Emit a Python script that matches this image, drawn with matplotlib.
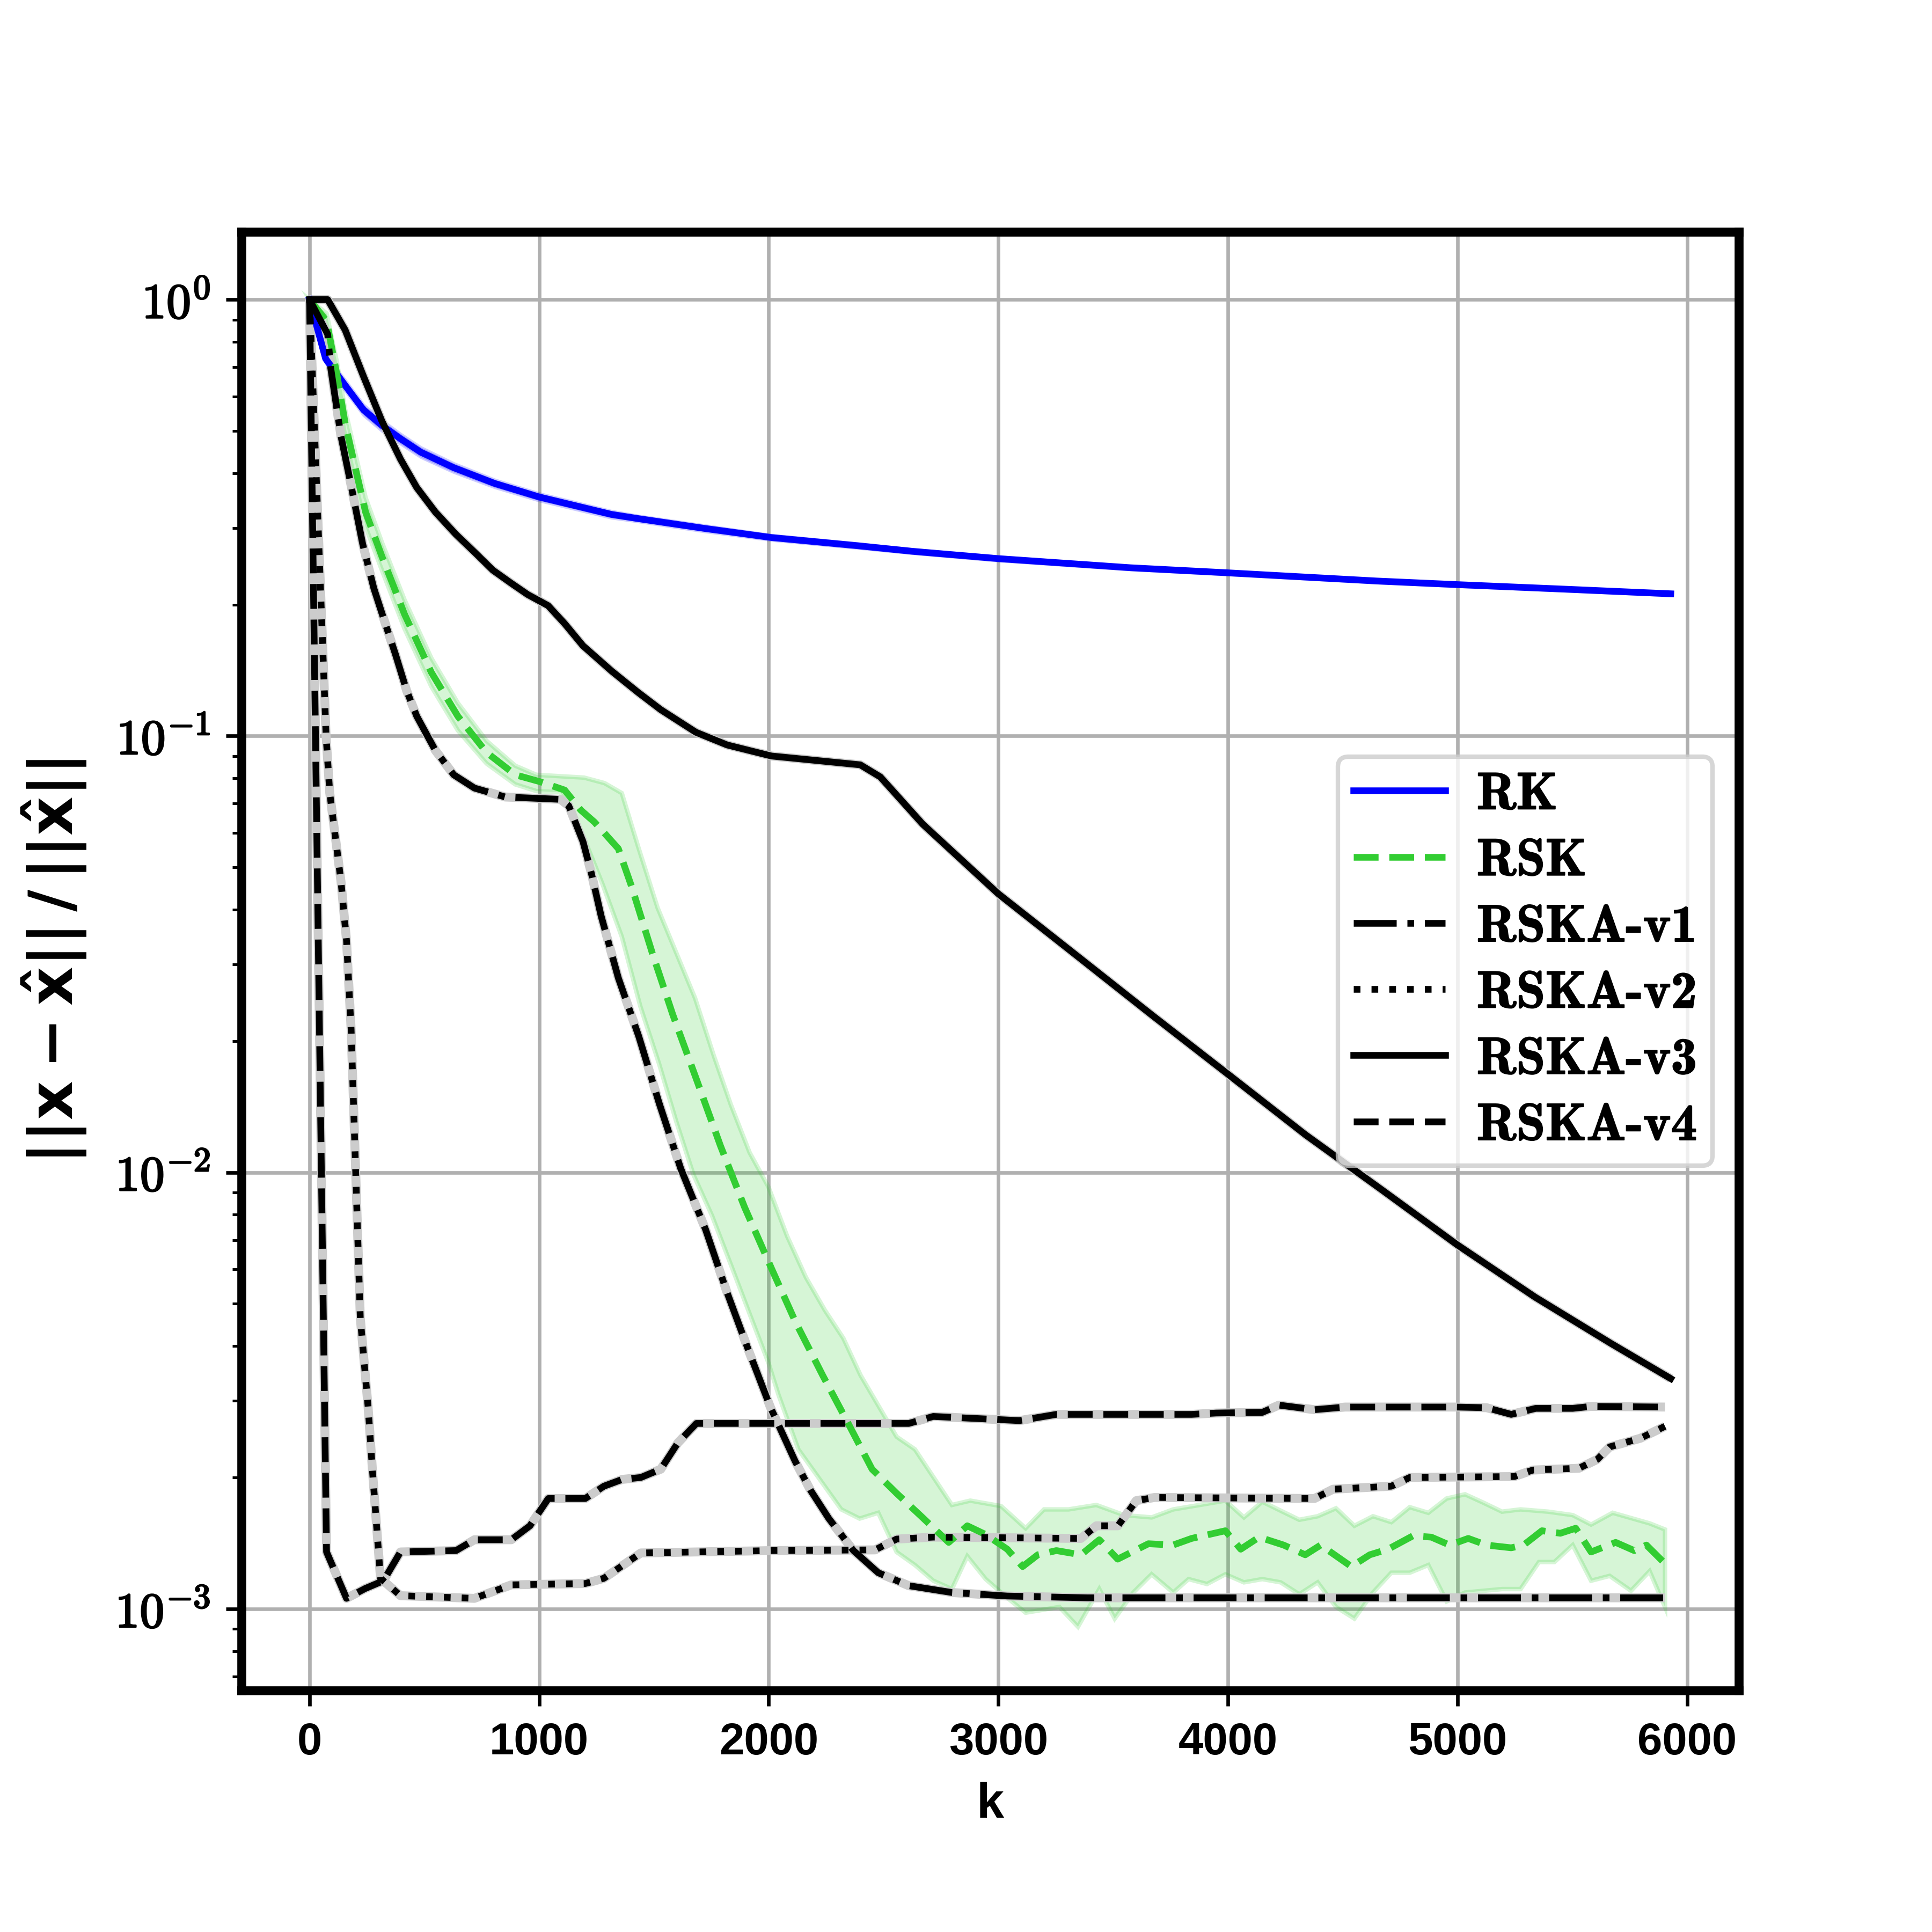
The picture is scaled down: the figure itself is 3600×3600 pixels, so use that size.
import numpy as np
import matplotlib
matplotlib.use("Agg")
import matplotlib.pyplot as plt
import matplotlib.patheffects as pe
from matplotlib.ticker import FixedLocator, FixedFormatter

# ---------------- data ----------------
k_rk = [0, 70, 155, 235, 315, 396, 485, 628, 807, 1000, 1315, 1430, 1722, 2012, 2386,
        2627, 3000, 3576, 4000, 4648, 5000, 5481, 5929]
rk = [1.0, 0.732, 0.636, 0.559, 0.515, 0.480, 0.447, 0.412, 0.379, 0.353, 0.322,
      0.315, 0.299, 0.285, 0.273, 0.265, 0.255, 0.243, 0.2366, 0.2266, 0.2223, 0.2169,
      0.2118]
rk_hi = [1.0, 0.748, 0.655, 0.575, 0.530, 0.493, 0.459, 0.422, 0.387, 0.360, 0.328,
         0.320, 0.304, 0.289, 0.2765, 0.268, 0.258, 0.2455, 0.239, 0.2288, 0.2244,
         0.2189, 0.2137]
rk_lo = [1.0, 0.716, 0.618, 0.543, 0.500, 0.467, 0.435, 0.402, 0.371, 0.346, 0.316,
         0.310, 0.294, 0.281, 0.2695, 0.262, 0.252, 0.2405, 0.2342, 0.2244, 0.2202,
         0.2149, 0.2099]

k_rsk = [0, 74, 119, 155, 199, 244, 315, 414, 530, 646, 771, 896, 1000, 1111, 1182,
         1241, 1345, 1404, 1493, 1582, 1686, 1790, 1895, 2013, 2117, 2236, 2343, 2450,
         2557, 2664, 2784, 2865, 2945, 3039, 3106, 3172, 3253, 3360, 3440, 3520, 3654,
         3761, 3842, 3989, 4056, 4136, 4243, 4337, 4404, 4538, 4618, 4698, 4806, 4886,
         4966, 5047, 5127, 5234, 5288, 5368, 5448, 5515, 5582, 5689, 5770, 5823, 5904]
rsk = [1.0, 0.894, 0.674, 0.521, 0.412, 0.326, 0.258, 0.190, 0.140, 0.111, 0.0917,
       0.0815, 0.0787, 0.0752, 0.0676, 0.0635, 0.0552, 0.0450, 0.0318, 0.0230, 0.0163,
       0.0115, 0.00832, 0.00601, 0.00454, 0.00342, 0.00268, 0.00209, 0.00184, 0.00163,
       0.00142, 0.00155, 0.00148, 0.00137, 0.00125, 0.00133, 0.00136, 0.00133, 0.00144,
       0.00130, 0.00141, 0.00140, 0.00145, 0.00151, 0.00137, 0.00146, 0.00140, 0.00133,
       0.00140, 0.00125, 0.00133, 0.00137, 0.00147, 0.00146, 0.00140, 0.00145, 0.00140,
       0.00138, 0.00140, 0.00151, 0.00149, 0.00153, 0.00135, 0.00142, 0.00136, 0.00140,
       0.00127]

k_rsk_hi = [0, 74, 119, 155, 199, 244, 315, 414, 530, 646, 771, 896, 988, 1196, 1285,
            1360, 1434, 1516, 1598, 1679, 1761, 1835, 1917, 1999, 2080, 2162, 2244, 2325,
            2400, 2557, 2637, 2798, 2878, 3012, 3119, 3199, 3306, 3427, 3548, 3668, 3762,
            3989, 4070, 4150, 4311, 4391, 4471, 4551, 4632, 4712, 4792, 4873, 4953, 5033,
            5114, 5194, 5275, 5395, 5502, 5582, 5676, 5837, 5904]
rsk_hi = [1.0, 0.93, 0.72, 0.56, 0.445, 0.352, 0.278, 0.205, 0.151, 0.119, 0.0975,
          0.0855, 0.0815, 0.0803, 0.0780, 0.0740, 0.0552, 0.0404, 0.0318, 0.0251, 0.0185,
          0.0143, 0.0111, 0.00926, 0.00715, 0.00575, 0.00484, 0.00417, 0.00343, 0.00248,
          0.00232, 0.00173, 0.00177, 0.00172, 0.00153, 0.00169, 0.00169, 0.00173, 0.00164,
          0.00162, 0.00169, 0.00177, 0.00162, 0.00176, 0.00160, 0.00163, 0.00170, 0.00155,
          0.00163, 0.00158, 0.00171, 0.00166, 0.00179, 0.00183, 0.00175, 0.00167, 0.00169,
          0.00167, 0.00164, 0.00156, 0.00166, 0.00157, 0.00152]

k_rsk_lo = [0, 74, 119, 155, 199, 244, 315, 414, 530, 646, 771, 896, 988, 1092, 1137,
            1196, 1278, 1360, 1441, 1523, 1597, 1672, 1753, 1835, 1917, 1999, 2043, 2129,
            2316, 2396, 2477, 2557, 2637, 2717, 2798, 2865, 2945, 3039, 3119, 3266, 3347,
            3440, 3507, 3588, 3668, 3762, 3829, 3909, 3989, 4070, 4150, 4230, 4311, 4391,
            4471, 4551, 4632, 4712, 4792, 4873, 4953, 5033, 5114, 5194, 5275, 5355, 5422,
            5502, 5582, 5663, 5756, 5837, 5904]
rsk_lo = [1.0, 0.86, 0.63, 0.485, 0.382, 0.302, 0.24, 0.176, 0.130, 0.103, 0.0865,
          0.0775, 0.0748, 0.0743, 0.0686, 0.0583, 0.0455, 0.0347, 0.0240, 0.0177, 0.0131,
          0.00989, 0.00796, 0.00615, 0.00474, 0.00366, 0.00309, 0.00232, 0.00169, 0.00161,
          0.00166, 0.00135, 0.00126, 0.00116, 0.00111, 0.00132, 0.00117, 0.00106, 0.00098,
          0.00101, 0.00091, 0.00111, 0.00095, 0.00109, 0.00120, 0.00109, 0.00117, 0.00114,
          0.00120, 0.00115, 0.00117, 0.00115, 0.00108, 0.00115, 0.00101, 0.00095, 0.00109,
          0.00121, 0.00121, 0.00126, 0.00104, 0.00109, 0.00110, 0.00111, 0.00111, 0.00128,
          0.00128, 0.00140, 0.00116, 0.00119, 0.00110, 0.00122, 0.00101]

k_v1 = [0, 79, 92, 137, 181, 231, 280, 324, 374, 423, 467, 548, 628, 718, 852, 1093,
        1129, 1191, 1227, 1270, 1345, 1434, 1523, 1617, 1725, 1819, 1913, 2007, 2115,
        2182, 2262, 2369, 2477, 2610, 2798, 3039, 3387, 5904]
v1 = [1.0, 0.833, 0.698, 0.486, 0.375, 0.276, 0.218, 0.185, 0.154, 0.127, 0.111,
      0.0927, 0.0815, 0.0760, 0.0725, 0.0716, 0.0692, 0.0573, 0.0486, 0.0387, 0.0279,
      0.0205, 0.0144, 0.0102, 0.0074, 0.0053, 0.0039, 0.00290, 0.00218, 0.00187,
      0.00161, 0.00136, 0.00121, 0.00113, 0.00109, 0.00107, 0.00106, 0.00106]

k_v2 = [0, 72, 88, 137, 161, 181, 201, 221, 255, 275, 309, 396, 718, 879, 1201, 1282,
        1443, 2017, 2463, 2557, 2717, 3360, 3427, 3521, 3601, 3681, 4377, 4458, 4712,
        4792, 5248, 5328, 5529, 5609, 5663, 5797, 5904]
v2 = [1.0, 0.10, 0.074, 0.0464, 0.034, 0.0213, 0.0100, 0.00464, 0.0029, 0.00204,
      0.001175, 0.001072, 0.001057, 0.001135, 0.001143, 0.001175, 0.001343, 0.00136,
      0.001365, 0.001445, 0.00146, 0.00145, 0.00155, 0.00155, 0.00177, 0.00180, 0.00179,
      0.00188, 0.00191, 0.00200, 0.00201, 0.00208, 0.00210, 0.00220, 0.00235, 0.00246,
      0.00262]

k_v3 = [0, 79, 155, 235, 315, 396, 467, 548, 637, 718, 798, 878, 950, 1039, 1111, 1191,
        1315, 1430, 1529, 1683, 1819, 2012, 2399, 2486, 2671, 3000, 3338, 3671, 4000,
        4338, 4671, 5000, 5338, 5671, 5929]
v3 = [1.0, 1.0, 0.852, 0.667, 0.527, 0.431, 0.371, 0.326, 0.290, 0.264, 0.240, 0.224,
      0.211, 0.199, 0.181, 0.161, 0.141, 0.126, 0.115, 0.102, 0.0954, 0.090, 0.0859,
      0.0806, 0.0628, 0.0435, 0.0315, 0.0229, 0.0168, 0.0122, 0.00912, 0.00682,
      0.00518, 0.00405, 0.00337]

k_v4 = [0, 74, 161, 242, 322, 396, 638, 718, 879, 960, 1040, 1201, 1282, 1362, 1443,
        1530, 1604, 1685, 2610, 2717, 3092, 3253, 3842, 3949, 4150, 4222, 4377, 4511,
        4993, 5127, 5234, 5341, 5502, 5582, 5904]
v4 = [1.0, 0.00135, 0.001057, 0.001113, 0.00116, 0.00135, 0.00136, 0.00144, 0.00144,
      0.00155, 0.00179, 0.00179, 0.00191, 0.00198, 0.00200, 0.00209, 0.00240, 0.00266,
      0.00266, 0.00276, 0.00270, 0.00279, 0.00279, 0.00281, 0.00282, 0.00293, 0.00286,
      0.00290, 0.00290, 0.00289, 0.00279, 0.00288, 0.00288, 0.00291, 0.00290]

labels = ["RK", "RSK", "RSKA-v1", "RSKA-v2", "RSKA-v3", "RSKA-v4"]
x_ticks = [0, 1000, 2000, 3000, 4000, 5000, 6000]
y_ticks = [1e0, 1e-1, 1e-2, 1e-3]
y_ticklabels = [r'$\mathbf{10^{0}}$', r'$\mathbf{10^{-1}}$',
                r'$\mathbf{10^{-2}}$', r'$\mathbf{10^{-3}}$']

# ---------------- style ----------------
plt.rcParams['font.family'] = ['Liberation Sans', 'DejaVu Sans']
plt.rcParams['font.weight'] = 'bold'
plt.rcParams['mathtext.fontset'] = 'cm'
plt.rcParams['mathtext.default'] = 'bf'

fig = plt.figure(figsize=(6, 6), dpi=600)
ax = fig.add_axes([0.125, 0.125, 0.775, 0.755])

# uncertainty bands
ax.fill_between(k_rk, rk_lo, rk_hi, color='blue', alpha=0.2, lw=0.6, zorder=1)
ax.fill(np.r_[k_rsk_hi, k_rsk_lo[::-1]], np.r_[rsk_hi, rsk_lo[::-1]],
        facecolor='limegreen', edgecolor='limegreen', alpha=0.2, lw=1.0, zorder=1)

# gray halos for the black series
for kk, vv in [(k_v1, v1), (k_v2, v2), (k_v3, v3), (k_v4, v4)]:
    ax.plot(kk, vv, color='0.8', lw=2.0, solid_capstyle='butt', zorder=2)

ax.plot(k_rk, rk, color='blue', lw=1.5, ls='-', label=labels[0], zorder=3)
ax.plot(k_rsk, rsk, color='limegreen', lw=1.5, ls='--', label=labels[1], zorder=3)
ax.plot(k_v1, v1, color='black', lw=1.5, ls='-.', label=labels[2], zorder=3)
ax.plot(k_v2, v2, color='black', lw=1.5, ls=':', label=labels[3], zorder=3)
ax.plot(k_v3, v3, color='black', lw=1.5, ls='-', label=labels[4], zorder=3)
ax.plot(k_v4, v4, color='black', lw=1.5, ls='--', label=labels[5], zorder=3)

ax.set_yscale('log')
ax.set_ylim(6.5e-4, 1.43)
ax.set_xticks(x_ticks)
ax.yaxis.set_major_locator(FixedLocator(y_ticks))
ax.yaxis.set_major_formatter(FixedFormatter(y_ticklabels))
ax.grid(True, which='major', color='#b0b0b0', lw=0.8)
ax.set_axisbelow(True)

for sp in ax.spines.values():
    sp.set_linewidth(2.0)

ax.tick_params(axis='x', which='major', labelsize=10)
ax.tick_params(axis='y', which='major', labelsize=11)

ax.set_xlabel('k', fontsize=11, fontweight='bold')
ax.set_ylabel(r'$||\mathbf{x} - \hat{\mathbf{x}}||\,/\,||\hat{\mathbf{x}}||$',
              fontsize=13.5, math_fontfamily='dejavusans', labelpad=6)

leg = ax.legend(loc='center right', prop={'family': 'cmb10', 'size': 11.7},
                handlelength=1.75, handletextpad=0.6, labelspacing=0.37,
                borderpad=0.3)

fig.canvas.draw()
bold_fx = [pe.withStroke(linewidth=0.35, foreground='black')]
for t in ax.get_yticklabels():
    t.set_path_effects(bold_fx)
for t in leg.get_texts():
    t.set_path_effects([pe.withStroke(linewidth=0.25, foreground='black')])

fig.savefig('out.png', dpi=600)
